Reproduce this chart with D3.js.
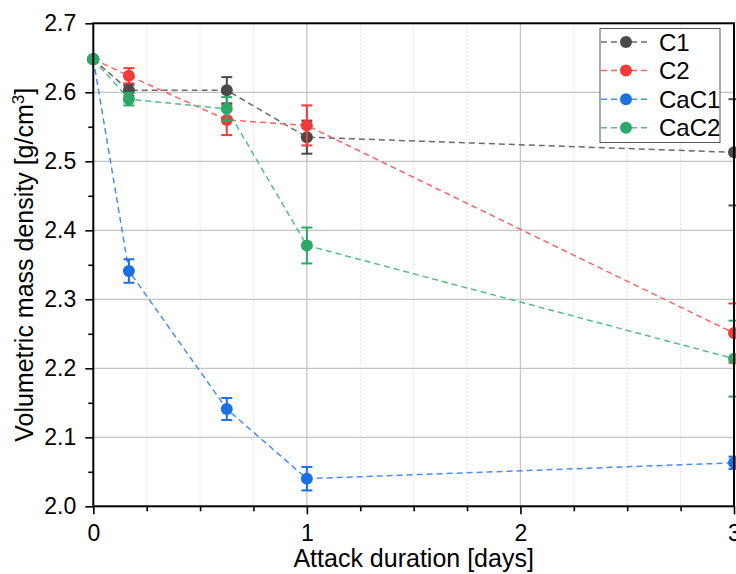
<!DOCTYPE html>
<html><head><meta charset="utf-8">
<script src="https://cdn.jsdelivr.net/npm/d3@7"></script>
<style>body{margin:0;background:#fff}svg{display:block;font-family:"Liberation Sans",Arial,sans-serif}</style>
</head><body><svg id="c" width="736" height="574"></svg>
<script>
const days = [0, 0.1667, 0.625, 1, 3];
const seriesNames = ["C1", "C2", "CaC1", "CaC2"];
const C1 = [2.648, 2.603, 2.603, 2.535, 2.513];
const C1err = [0.003, 0.008, 0.019, 0.024, 0.077];
const C2 = [2.648, 2.624, 2.560, 2.552, 2.251];
const C2err = [0.003, 0.011, 0.022, 0.029, 0.043];
const CaC1 = [2.648, 2.341, 2.141, 2.040, 2.063];
const CaC1err = [0.003, 0.017, 0.016, 0.017, 0.009];
const CaC2 = [2.648, 2.590, 2.576, 2.378, 2.214];
const CaC2err = [0.003, 0.009, 0.017, 0.026, 0.055];
const markerColors = ["#4a4a4a", "#f03b3b", "#1c6fe3", "#2ea866"];
const lineColors = ["#6a6a6a", "#f56666", "#4a8cf0", "#55bd85"];
const xTicks = [0, 1, 2, 3];
const yTicks = [2.0, 2.1, 2.2, 2.3, 2.4, 2.5, 2.6, 2.7];

const values = [C1, C2, CaC1, CaC2];
const errs = [C1err, C2err, CaC1err, CaC2err];

const svg = d3.select("#c");
const L = 93.3, R = 734, T = 23.3, B = 506.3;
const x = d3.scaleLinear().domain([0, 3]).range([L, R]);
const y = d3.scaleLinear().domain([2.0, 2.7]).range([B, T]);
const tickFont = 23, titleFont = 25, legendFont = 24;

// minor vertical grid (dotted)
const minorX = d3.range(0, 3.001, 0.25).filter(v => Math.abs(v - Math.round(v)) > 1e-6);
svg.append("g").selectAll("line").data(minorX).join("line")
  .attr("x1", d => x(d)).attr("x2", d => x(d)).attr("y1", T).attr("y2", B)
  .attr("stroke", "#dedede").attr("stroke-width", 1).attr("stroke-dasharray", "2,2");
// major grids
svg.append("g").selectAll("line").data([1, 2]).join("line")
  .attr("x1", d => x(d)).attr("x2", d => x(d)).attr("y1", T).attr("y2", B)
  .attr("stroke", "#c4c4c4").attr("stroke-width", 1.3);
svg.append("g").selectAll("line").data(yTicks.slice(1, -1)).join("line")
  .attr("y1", d => y(d)).attr("y2", d => y(d)).attr("x1", L).attr("x2", R)
  .attr("stroke", "#c4c4c4").attr("stroke-width", 1.3);

// axes
const xAxis = d3.axisBottom(x).tickValues(xTicks).tickFormat(d3.format("d")).tickSize(8).tickPadding(10);
const gx = svg.append("g").attr("transform", `translate(0,${B})`).call(xAxis);
const xMinor = d3.axisBottom(x).tickValues(minorX).tickFormat("").tickSize(5);
svg.append("g").attr("transform", `translate(0,${B})`).call(xMinor).select(".domain").remove();
const yAxis = d3.axisLeft(y).tickValues(yTicks).tickFormat(d3.format(".1f")).tickSize(8).tickPadding(9);
const gy = svg.append("g").attr("transform", `translate(${L},0)`).call(yAxis);
const minorY = d3.range(2.05, 2.7, 0.1);
const yMinor = d3.axisLeft(y).tickValues(minorY).tickFormat("").tickSize(5);
svg.append("g").attr("transform", `translate(${L},0)`).call(yMinor).select(".domain").remove();
svg.selectAll(".tick line").attr("stroke", "#000").attr("stroke-width", 1.6);
svg.selectAll(".tick text").attr("font-size", tickFont).attr("fill", "#000").attr("font-family", "Liberation Sans, Arial, sans-serif");
gx.select(".domain").remove(); gy.select(".domain").remove();

// series
const line = d3.line().x(d => x(d[0])).y(d => y(d[1]));
values.forEach((vals, i) => {
  const pts = days.map((d, j) => [d, vals[j], errs[i][j]]);
  svg.append("path").datum(pts).attr("d", line).attr("fill", "none")
    .attr("stroke", lineColors[i]).attr("stroke-width", 1.5).attr("stroke-dasharray", "6,4");
});
values.forEach((vals, i) => {
  const pts = days.map((d, j) => [d, vals[j], errs[i][j]]);
  const g = svg.append("g").attr("stroke", markerColors[i]).attr("stroke-width", 2);
  g.selectAll("line.v").data(pts).join("line").attr("class", "v")
    .attr("x1", d => x(d[0])).attr("x2", d => x(d[0]))
    .attr("y1", d => y(d[1] - d[2])).attr("y2", d => y(d[1] + d[2]));
  g.selectAll("line.t").data(pts).join("line").attr("class", "t")
    .attr("x1", d => x(d[0]) - 5.5).attr("x2", d => x(d[0]) + 5.5)
    .attr("y1", d => y(d[1] + d[2])).attr("y2", d => y(d[1] + d[2]));
  g.selectAll("line.b").data(pts).join("line").attr("class", "b")
    .attr("x1", d => x(d[0]) - 5.5).attr("x2", d => x(d[0]) + 5.5)
    .attr("y1", d => y(d[1] - d[2])).attr("y2", d => y(d[1] - d[2]));
  svg.append("g").selectAll("circle").data(pts).join("circle")
    .attr("cx", d => x(d[0])).attr("cy", d => y(d[1])).attr("r", 6)
    .attr("fill", markerColors[i]);
});

// frame
svg.append("rect").attr("x", L).attr("y", T).attr("width", R - L).attr("height", B - T)
  .attr("fill", "none").attr("stroke", "#000").attr("stroke-width", 2);

// legend
const lg = svg.append("g");
lg.append("rect").attr("x", 600).attr("y", 28.5).attr("width", 120).attr("height", 114)
  .attr("fill", "#fff").attr("stroke", "#555").attr("stroke-width", 1);
seriesNames.forEach((n, i) => {
  const yy = 42 + i * 28.6;
  lg.append("line").attr("x1", 601).attr("x2", 650).attr("y1", yy).attr("y2", yy)
    .attr("stroke", lineColors[i]).attr("stroke-width", 1.5).attr("stroke-dasharray", "6,4");
  lg.append("circle").attr("cx", 626).attr("cy", yy).attr("r", 6).attr("fill", markerColors[i]);
  lg.append("text").attr("x", 659).attr("y", yy + 8.5).attr("font-size", legendFont).text(n);
});

// titles
svg.append("text").attr("x", (L + R) / 2).attr("y", 567).attr("text-anchor", "middle")
  .attr("font-size", titleFont).text("Attack duration [days]");
const yt = svg.append("text").attr("transform", `translate(33,${(T + B) / 2}) rotate(-90)`)
  .attr("text-anchor", "middle").attr("font-size", titleFont);
yt.append("tspan").text("Volumetric mass density [g/cm");
yt.append("tspan").attr("dy", -9).attr("font-size", 17).text("3");
yt.append("tspan").attr("dy", 9).text("]");
</script></body></html>
